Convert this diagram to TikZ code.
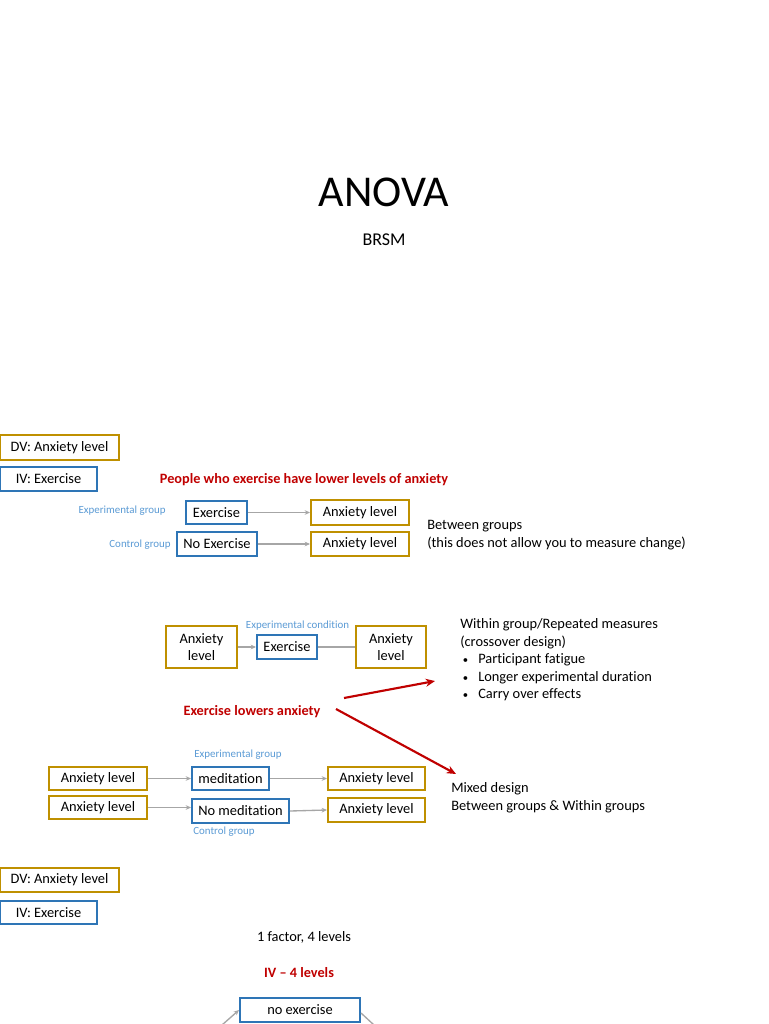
\documentclass[tikz,border=0pt]{standalone}
\usepackage{fontspec}
\setmainfont{Carlito}[Ligatures=NoCommon]
\usetikzlibrary{arrows.meta}
\definecolor{gold}{HTML}{BF9000}
\definecolor{boxblue}{HTML}{2E75B6}
\definecolor{lblue}{HTML}{5B9BD5}
\definecolor{dred}{HTML}{C00000}
\definecolor{arrgray}{HTML}{A6A6A6}
\tikzset{
  txt/.style={font=\fontsize{10.8}{13.2}\selectfont, inner sep=0pt},
  goldbox/.style={draw=gold, line width=1.5pt, txt, align=center},
  bluebox/.style={draw=boxblue, line width=1.5pt, txt, align=center},
  small/.style={font=\fontsize{8.2}{9.5}\selectfont, text=lblue, inner sep=0pt},
  redtxt/.style={font=\fontsize{10.7}{13}\selectfont\bfseries, text=dred, inner sep=0pt},
  garrow/.style={draw=arrgray, line width=1pt, -{Stealth[length=4pt,width=3.5pt]}},
  gline/.style={draw=arrgray, line width=1pt},
  rarrow/.style={draw=dred, line width=1.6pt, -{Stealth[length=7pt,width=6pt]}},
}
\begin{document}
\begin{tikzpicture}[x=0.75pt,y=-0.75pt]
\useasboundingbox (0,0) rectangle (768,1024);
\fill[white] (0,0) rectangle (768,1024);

% title
\node[inner sep=0pt, font=\fontsize{33}{36}\selectfont] (title) at (384,192) {ANOVA};
\node[inner sep=0pt, font=\fontsize{13.5}{16}\selectfont] (sub) at (384,240) {BRSM};

% first block
\node[goldbox, minimum width=89.25pt, minimum height=18.75pt] (dv1) at (59.5,447.5) {DV: Anxiety level};
\node[bluebox, minimum width=72.75pt, minimum height=18pt] (iv1) at (48.5,479) {IV: Exercise};
\node[redtxt] (claim1) at (304,480) {People who exercise have lower levels of anxiety};

\node[small, anchor=east] (eg1) at (166,511) {Experimental group};
\node[bluebox, minimum width=45.75pt, minimum height=17.25pt] (ex1) at (216.5,512.5) {Exercise};
\node[goldbox, minimum width=73.5pt, minimum height=18.75pt] (al1) at (360,512.5) {Anxiety level};
\node[small, anchor=east] (cg1) at (171,545) {Control group};
\node[bluebox, minimum width=60pt, minimum height=18pt] (nex1) at (217,544) {No Exercise};
\node[goldbox, minimum width=73.5pt, minimum height=18pt] (al2) at (360,544) {Anxiety level};
\draw[garrow] (ex1.east) -- (al1.west);
\draw[garrow] (nex1.east) -- (al2.west);
\node[txt, anchor=west, align=left] (bg) at (427,535) {Between groups\\(this does not allow you to measure change)};

% crossover block
\node[goldbox, minimum width=53.25pt, minimum height=31.5pt] (alx1) at (201.5,647) {Anxiety\\level};
\node[bluebox, minimum width=45pt, minimum height=18pt] (ex2) at (287,647) {Exercise};
\node[goldbox, minimum width=52.5pt, minimum height=31.5pt] (alx2) at (391,647) {Anxiety\\level};
\node[small] (ec) at (297.5,625.5) {Experimental condition};
\draw[garrow] (alx1.east) -- (ex2.west);
\draw[gline] (ex2.east) -- (alx2.west);
\node[txt, anchor=west, align=left, font=\fontsize{10.8}{13.1}\selectfont] (within) at (460,660) {Within group/Repeated measures\\(crossover design)\\\hspace*{2pt}\makebox[11.5pt][l]{\fontsize{8}{9}\selectfont•}Participant fatigue\\\hspace*{2pt}\makebox[11.5pt][l]{\fontsize{8}{9}\selectfont•}Longer experimental duration\\\hspace*{2pt}\makebox[11.5pt][l]{\fontsize{8}{9}\selectfont•}Carry over effects};

\node[redtxt] (claim2) at (252,712) {Exercise lowers anxiety};
\coordinate (r1s) at (344,698);
\coordinate (r1e) at (435,681);
\coordinate (r2s) at (336,709);
\coordinate (r2e) at (456,774);
\draw[rarrow] (r1s) -- (r1e);
\draw[rarrow] (r2s) -- (r2e);

% mixed block
\node[small] (eg2) at (238,755) {Experimental group};
\node[goldbox, minimum width=73.5pt, minimum height=17.25pt] (ma1) at (98,778.5) {Anxiety level};
\node[goldbox, minimum width=73.5pt, minimum height=17.25pt] (ma2) at (98,807.5) {Anxiety level};
\node[bluebox, minimum width=57.75pt, minimum height=17.25pt] (med) at (230.5,778.5) {meditation};
\node[bluebox, minimum width=72.75pt, minimum height=18pt] (nmed) at (240.5,811) {No meditation};
\node[small] (cg2) at (224,832) {Control group};
\node[goldbox, minimum width=72.75pt, minimum height=17.25pt] (mb1) at (376.5,778.5) {Anxiety level};
\node[goldbox, minimum width=72.75pt, minimum height=18pt] (mb2) at (376.5,810) {Anxiety level};
\draw[garrow] (ma1.east) -- (med.west);
\draw[garrow] (ma2.east) -- (nmed.west |- ma2.east);
\draw[garrow] (med.east) -- (mb1.west);
\draw[garrow] (nmed.east) -- (mb2.west);
\node[txt, anchor=west, align=left] (mixed) at (451,797.5) {Mixed design\\Between groups \& Within groups};

% bottom block
\node[goldbox, minimum width=89.25pt, minimum height=18pt] (dv2) at (59.5,880) {DV: Anxiety level};
\node[bluebox, minimum width=72.75pt, minimum height=17.25pt] (iv2) at (48.5,912.5) {IV: Exercise};
\node[txt] (fac) at (304,937.5) {1 factor, 4 levels};
\node[redtxt] (iv4) at (299,972.5) {IV – 4 levels};
\node[bluebox, minimum width=90pt, minimum height=18pt] (noex) at (300,1010) {no exercise};
\coordinate (bl) at (222,1025);
\coordinate (br) at (374,1025);
\draw[garrow] (bl) -- (noex.west);
\draw[gline] ([yshift=-2.25pt]noex.east) -- (br);
\end{tikzpicture}
\end{document}
